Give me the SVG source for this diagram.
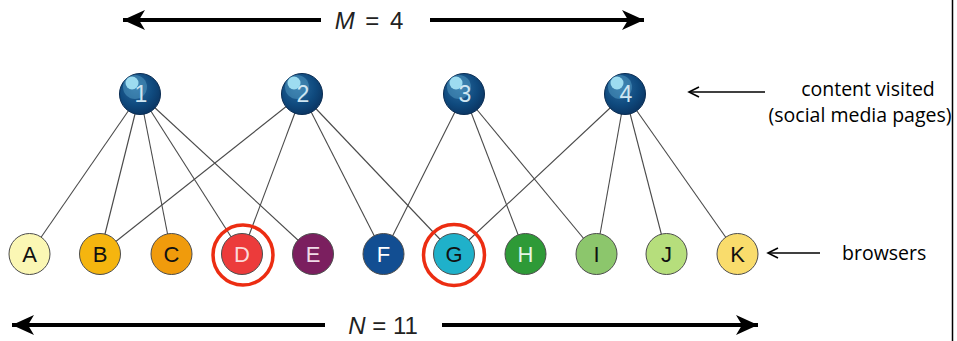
<svg xmlns="http://www.w3.org/2000/svg" width="957" height="341" viewBox="0 0 957 341">
<defs>
<style>
.edge{stroke:#4a4a4a;stroke-width:1.1;fill:none}
.big{stroke:#000;stroke-width:3.8;fill:none}
.thin{stroke:#000;stroke-width:1.5;fill:none}
.bn{stroke:#4d4d4d;stroke-width:1}
.tl{font-family:"Liberation Sans",Arial,sans-serif;font-size:23px;text-anchor:middle;fill:#cfe6f2}
.bl{font-family:"Liberation Sans",Arial,sans-serif;font-size:22px;text-anchor:middle}
.dim{font-family:"Liberation Sans",Arial,sans-serif;font-size:24px;fill:#222}
.note{font-family:"Open Sans","Liberation Sans",sans-serif;font-size:19.5px;fill:#000}
.ring{fill:none;stroke:#ec2d12;stroke-width:3.5}
</style>
<radialGradient id="sph" cx="0.4" cy="0.35" r="0.7">
<stop offset="0" stop-color="#2a6a9e"/>
<stop offset="0.6" stop-color="#0f4a7e"/>
<stop offset="1" stop-color="#0a3360"/>
</radialGradient>
<marker id="ah" markerUnits="userSpaceOnUse" markerWidth="26" markerHeight="24" refX="24" refY="12" orient="auto-start-reverse" viewBox="0 0 26 24">
<path d="M24,12 L2,2 L8,12 L2,22 Z" fill="#000"/>
</marker>
<marker id="sa" markerUnits="userSpaceOnUse" markerWidth="14" markerHeight="14" refX="12" refY="7" orient="auto-start-reverse" viewBox="0 0 14 14">
<path d="M2,2 L12,7 L2,12" fill="none" stroke="#000" stroke-width="1.6"/>
</marker>
</defs>
<rect width="957" height="341" fill="#fff"/>
<line x1="952.5" y1="0" x2="952.5" y2="341" stroke="#000" stroke-width="1.5"/>

<g id="connectors">
<line class="edge" x1="140" y1="94" x2="29.5" y2="254"/>
<line class="edge" x1="140" y1="94" x2="100" y2="254"/>
<line class="edge" x1="140" y1="94" x2="171.5" y2="254"/>
<line class="edge" x1="140" y1="94" x2="242" y2="254"/>
<line class="edge" x1="140" y1="94" x2="313" y2="254"/>
<line class="edge" x1="302" y1="94" x2="100" y2="254"/>
<line class="edge" x1="302" y1="94" x2="242" y2="254"/>
<line class="edge" x1="302" y1="94" x2="383.5" y2="254"/>
<line class="edge" x1="302" y1="94" x2="454" y2="254"/>
<line class="edge" x1="464" y1="94" x2="383.5" y2="254"/>
<line class="edge" x1="464" y1="94" x2="525.5" y2="254"/>
<line class="edge" x1="464" y1="94" x2="596.5" y2="254"/>
<line class="edge" x1="625" y1="94" x2="454" y2="254"/>
<line class="edge" x1="625" y1="94" x2="596.5" y2="254"/>
<line class="edge" x1="625" y1="94" x2="666.5" y2="254"/>
<line class="edge" x1="625" y1="94" x2="737.5" y2="254"/>
</g>

<g id="dim-m">
<line class="big" x1="123" y1="20" x2="321" y2="20" marker-start="url(#ah)"/>
<line class="big" x1="430" y1="20" x2="644" y2="20" marker-end="url(#ah)"/>
<text class="dim" x="369" y="29" text-anchor="middle" word-spacing="4"><tspan font-style="italic">M</tspan> = 4</text>
</g>
<g id="dim-n">
<line class="big" x1="12" y1="325" x2="325" y2="325" marker-start="url(#ah)"/>
<line class="big" x1="442" y1="325" x2="758" y2="325" marker-end="url(#ah)"/>
<text class="dim" x="383" y="334" text-anchor="middle"><tspan font-style="italic">N</tspan> = 11</text>
</g>

<g id="n1"><circle cx="140" cy="94" r="20.5" fill="url(#sph)" stroke="#0a2c52" stroke-width="1"/><circle cx="135" cy="87" r="12" fill="#5aa6cc" opacity="0.45"/><circle cx="132" cy="83" r="6.5" fill="#9ddcf0"/><text class="tl" x="141" y="102">1</text></g>
<g id="n2"><circle cx="302" cy="94" r="20.5" fill="url(#sph)" stroke="#0a2c52" stroke-width="1"/><circle cx="297" cy="87" r="12" fill="#5aa6cc" opacity="0.45"/><circle cx="294" cy="83" r="6.5" fill="#9ddcf0"/><text class="tl" x="303" y="102">2</text></g>
<g id="n3"><circle cx="464" cy="94" r="20.5" fill="url(#sph)" stroke="#0a2c52" stroke-width="1"/><circle cx="459" cy="87" r="12" fill="#5aa6cc" opacity="0.45"/><circle cx="456" cy="83" r="6.5" fill="#9ddcf0"/><text class="tl" x="465" y="102">3</text></g>
<g id="n4"><circle cx="625" cy="94" r="20.5" fill="url(#sph)" stroke="#0a2c52" stroke-width="1"/><circle cx="620" cy="87" r="12" fill="#5aa6cc" opacity="0.45"/><circle cx="617" cy="83" r="6.5" fill="#9ddcf0"/><text class="tl" x="626" y="102">4</text></g>

<g id="nA"><circle class="bn" cx="29.5" cy="254" r="20.5" fill="#fbf7b4"/><text class="bl" x="29.5" y="262" fill="#111">A</text></g>
<g id="nB"><circle class="bn" cx="100" cy="254" r="20.5" fill="#f5b50f"/><text class="bl" x="100" y="262" fill="#111">B</text></g>
<g id="nC"><circle class="bn" cx="171.5" cy="254" r="20.5" fill="#f09b0c"/><text class="bl" x="171.5" y="262" fill="#111">C</text></g>
<g id="nD"><circle class="bn" cx="242" cy="254" r="20.5" fill="#ec3b3b"/><text class="bl" x="242" y="262" fill="#fbd9d9">D</text><circle class="ring" cx="243" cy="255" r="30"/></g>
<g id="nE"><circle class="bn" cx="313" cy="254" r="20.5" fill="#7b1f5f"/><text class="bl" x="313" y="262" fill="#f0dbe8">E</text></g>
<g id="nF"><circle class="bn" cx="383.5" cy="254" r="20.5" fill="#124e92"/><text class="bl" x="383.5" y="262" fill="#fff">F</text></g>
<g id="nG"><circle class="bn" cx="454" cy="254" r="20.5" fill="#1fb1ca"/><text class="bl" x="454" y="262" fill="#111">G</text><circle class="ring" cx="454" cy="255" r="30.5"/></g>
<g id="nH"><circle class="bn" cx="525.5" cy="254" r="20.5" fill="#2e9a37"/><text class="bl" x="525.5" y="262" fill="#e6f5e6">H</text></g>
<g id="nI"><circle class="bn" cx="596.5" cy="254" r="20.5" fill="#8cc66c"/><text class="bl" x="596.5" y="262" fill="#111">I</text></g>
<g id="nJ"><circle class="bn" cx="666.5" cy="254" r="20.5" fill="#b6de7c"/><text class="bl" x="666.5" y="262" fill="#111">J</text></g>
<g id="nK"><circle class="bn" cx="737.5" cy="254" r="20.5" fill="#f9dc6c"/><text class="bl" x="737.5" y="262" fill="#111">K</text></g>

<g id="label-content">
<line class="thin" x1="765" y1="92" x2="689" y2="92" marker-end="url(#sa)"/>
<text class="note" x="868" y="96" text-anchor="middle">content visited</text>
<text class="note" x="860" y="122" text-anchor="middle">(social media pages)</text>
</g>
<g id="label-browsers">
<line class="thin" x1="820" y1="253" x2="768" y2="253" marker-end="url(#sa)"/>
<text class="note" x="842" y="260">browsers</text>
</g>
</svg>
